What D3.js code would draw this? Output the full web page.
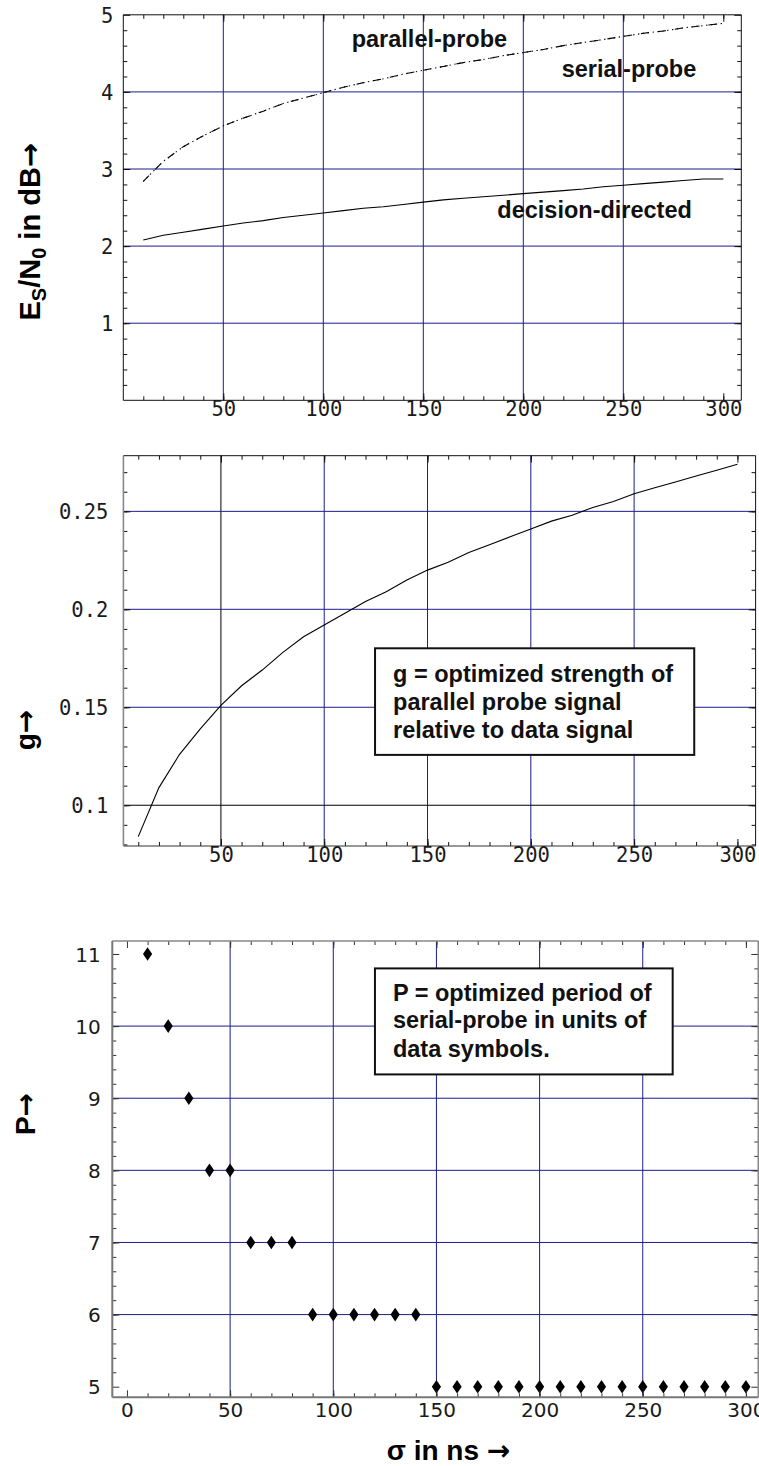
<!DOCTYPE html>
<html>
<head>
<meta charset="utf-8">
<script src="https://cdn.jsdelivr.net/npm/d3@7"></script>
<style>
  html, body { margin: 0; padding: 0; background: #fff; }
  svg { display: block; }
</style>
</head>
<body>
<svg id="fig" width="759" height="1466"></svg>
<script>
// ---- data -------------------------------------------------------------
// delay spread sigma in ns
const sigma = [10, 20, 30, 40, 50, 60, 70, 80, 90, 100,
               110, 120, 130, 140, 150, 160, 170, 180, 190, 200,
               210, 220, 230, 240, 250, 260, 270, 280, 290, 300];

// required Es/N0 in dB
const parallelProbe = [2.84, 3.10, 3.29, 3.43, 3.56, 3.66, 3.75, 3.85, 3.92, 3.99,
                       4.06, 4.12, 4.17, 4.23, 4.28, 4.33, 4.38, 4.42, 4.47, 4.51,
                       4.55, 4.60, 4.64, 4.68, 4.72, 4.76, 4.79, 4.83, 4.86, 4.89];
const serialProbe   = [2.84, 3.10, 3.29, 3.43, 3.56, 3.66, 3.75, 3.85, 3.92, 3.99,
                       4.06, 4.12, 4.17, 4.23, 4.28, 4.33, 4.38, 4.42, 4.47, 4.51,
                       4.55, 4.60, 4.64, 4.68, 4.72, 4.76, 4.79, 4.83, 4.86, 4.89];
const decisionDirected = [2.08, 2.14, 2.18, 2.22, 2.26, 2.30, 2.33, 2.37, 2.40, 2.43,
                          2.46, 2.49, 2.51, 2.54, 2.57, 2.60, 2.62, 2.64, 2.66, 2.68,
                          2.70, 2.72, 2.74, 2.77, 2.79, 2.81, 2.83, 2.85, 2.87, 2.87];

// optimized parallel probe strength g
const gStrength = [0.084, 0.109, 0.126, 0.139, 0.151, 0.161, 0.169, 0.178, 0.186, 0.192,
                   0.198, 0.204, 0.209, 0.215, 0.220, 0.224, 0.229, 0.233, 0.237, 0.241,
                   0.245, 0.248, 0.252, 0.255, 0.259, 0.262, 0.265, 0.268, 0.271, 0.274];

// optimized serial probe period P
const period = [11, 10, 9, 8, 8, 7, 7, 7, 6, 6,
                6, 6, 6, 6, 5, 5, 5, 5, 5, 5,
                5, 5, 5, 5, 5, 5, 5, 5, 5, 5];

// tick labels
const topXTicks = [50, 100, 150, 200, 250, 300];
const topYTicks = [1, 2, 3, 4, 5];
const midXTicks = [50, 100, 150, 200, 250, 300];
const midYTicks = [0.1, 0.15, 0.2, 0.25];
const botXTicks = [0, 50, 100, 150, 200, 250, 300];
const botYTicks = [5, 6, 7, 8, 9, 10, 11];

// ---- drawing ----------------------------------------------------------
const svg = d3.select("#fig");
const NAVY = "#1c1c8e";
const MONO = "'DejaVu Sans Mono', monospace";
const SANS = "'DejaVu Sans', sans-serif";
const BOLD = "'Liberation Sans', Arial, sans-serif";
const ARROW = "'DejaVu Sans', sans-serif";

function makePanel(cfg) {
  const x = d3.scaleLinear().domain(cfg.xDomain).range([cfg.left, cfg.right]);
  const y = d3.scaleLinear().domain(cfg.yDomain).range([cfg.bottom, cfg.top]);
  const g = svg.append("g");

  // grid lines
  const grid = g.append("g").attr("fill", "none").attr("stroke-width", 1);
  cfg.xGrid.forEach(v => {
    grid.append("line")
      .attr("x1", x(v)).attr("x2", x(v))
      .attr("y1", cfg.top).attr("y2", cfg.bottom)
      .attr("stroke", (cfg.blackX || []).includes(v) ? "#000" : NAVY);
  });
  cfg.yGrid.forEach(v => {
    grid.append("line")
      .attr("y1", y(v)).attr("y2", y(v))
      .attr("x1", cfg.left).attr("x2", cfg.right)
      .attr("stroke", (cfg.blackY || []).includes(v) ? "#000" : NAVY);
  });

  const layer = g.append("g");

  // inward ticks on all four sides
  const ticks = g.append("g");
  function tickSet(axisFn, scale, values, size, translate) {
    const a = axisFn(scale).tickValues(values).tickSize(-size).tickFormat("");
    const s = ticks.append("g").attr("transform", translate).call(a);
    s.select(".domain").remove();
    s.selectAll("line").attr("stroke", cfg.tickColor).attr("stroke-width", 1);
  }
  tickSet(d3.axisBottom, x, cfg.xMajor, 7, `translate(0,${cfg.bottom})`);
  tickSet(d3.axisBottom, x, cfg.xMinor, 4, `translate(0,${cfg.bottom})`);
  tickSet(d3.axisTop, x, cfg.xMajor, 7, `translate(0,${cfg.top})`);
  tickSet(d3.axisTop, x, cfg.xMinor, 4, `translate(0,${cfg.top})`);
  tickSet(d3.axisLeft, y, cfg.yMajor, 7, `translate(${cfg.left},0)`);
  tickSet(d3.axisLeft, y, cfg.yMinor, 4, `translate(${cfg.left},0)`);
  tickSet(d3.axisRight, y, cfg.yMajor, 7, `translate(${cfg.right},0)`);
  tickSet(d3.axisRight, y, cfg.yMinor, 4, `translate(${cfg.right},0)`);

  // frame
  const frame = g.append("g").attr("fill", "none");
  frame.append("line").attr("x1", cfg.left).attr("x2", cfg.right).attr("y1", cfg.top).attr("y2", cfg.top)
    .attr("stroke", cfg.frame.top[0]).attr("stroke-width", cfg.frame.top[1]);
  frame.append("line").attr("x1", cfg.left).attr("x2", cfg.right).attr("y1", cfg.bottom).attr("y2", cfg.bottom)
    .attr("stroke", cfg.frame.bottom[0]).attr("stroke-width", cfg.frame.bottom[1]);
  frame.append("line").attr("x1", cfg.left).attr("x2", cfg.left).attr("y1", cfg.top).attr("y2", cfg.bottom)
    .attr("stroke", cfg.frame.left[0]).attr("stroke-width", cfg.frame.left[1]);
  frame.append("line").attr("x1", cfg.right).attr("x2", cfg.right).attr("y1", cfg.top).attr("y2", cfg.bottom)
    .attr("stroke", cfg.frame.right[0]).attr("stroke-width", cfg.frame.right[1]);

  // tick labels
  const xl = g.append("g").attr("transform", `translate(0,${cfg.bottom})`)
    .call(d3.axisBottom(x).tickValues(cfg.xLabels).tickSize(0).tickFormat(d3.format("")));
  xl.select(".domain").remove();
  xl.selectAll("text").attr("y", cfg.xLabelOffset).attr("dy", null)
    .attr("font-family", cfg.labelFont).attr("font-size", cfg.labelSize).attr("fill", "#1a1a1a");

  const yl = g.append("g").attr("transform", `translate(${cfg.left},0)`)
    .call(d3.axisLeft(y).tickValues(cfg.yLabels).tickSize(0).tickFormat(d3.format("")));
  yl.select(".domain").remove();
  yl.selectAll("text").attr("x", -cfg.yLabelOffset).attr("dy", "0.36em")
    .attr("font-family", cfg.labelFont).attr("font-size", cfg.labelSize).attr("fill", "#1a1a1a");

  return { x, y, layer, g };
}

function textBox(parent, x0, y0, x1, y1, lines, offsets) {
  parent.append("rect")
    .attr("x", x0).attr("y", y0).attr("width", x1 - x0).attr("height", y1 - y0)
    .attr("fill", "#fff").attr("stroke", "#111").attr("stroke-width", 2);
  lines.forEach((t, i) => {
    parent.append("text")
      .attr("x", x0 + 18).attr("y", y0 + offsets[i])
      .attr("font-family", BOLD).attr("font-weight", "bold").attr("font-size", 23.5)
      .attr("fill", "#111").text(t);
  });
}

// axis title with a long arrow at its end
function axisTitle(transform, parts, size) {
  const t = svg.append("text")
    .attr("transform", transform)
    .attr("text-anchor", "middle")
    .attr("font-family", BOLD).attr("font-weight", "bold").attr("font-size", size).attr("fill", "#000");
  parts(t);
  return t;
}

// ---------- panel 1 : Es/N0 ----------
const p1 = makePanel({
  left: 123.3, right: 741.3, top: 14.8, bottom: 400.3,
  xDomain: [0, 309], yDomain: [0, 5],
  xGrid: [50, 100, 150, 200, 250], yGrid: [1, 2, 3, 4],
  xMajor: [50, 100, 150, 200, 250, 300], xMinor: d3.range(10, 309, 10),
  yMajor: [1, 2, 3, 4, 5], yMinor: d3.range(0.2, 5, 0.2),
  xLabels: topXTicks, yLabels: topYTicks,
  xLabelOffset: 15.8, yLabelOffset: 10, labelFont: MONO, labelSize: 20.5,
  tickColor: "#111",
  frame: { top: ["#111", 1], bottom: ["#111", 1], left: ["#111", 1], right: ["#111", 1] }
});
{
  const line = d3.line().x((d, i) => p1.x(sigma[i]));
  p1.layer.append("path").datum(parallelProbe)
    .attr("d", line.y(d => p1.y(d)))
    .attr("fill", "none").attr("stroke", "#000").attr("stroke-width", 1.1)
    .attr("stroke-dasharray", "8 9");
  p1.layer.append("path").datum(serialProbe)
    .attr("d", line.y(d => p1.y(d)))
    .attr("fill", "none").attr("stroke", "#000").attr("stroke-width", 1.1)
    .attr("stroke-dasharray", "1.3 3.6").attr("stroke-dashoffset", -9.5);
  p1.layer.append("path").datum(decisionDirected)
    .attr("d", line.y(d => p1.y(d)))
    .attr("fill", "none").attr("stroke", "#000").attr("stroke-width", 1.1);

  const ann = [["parallel-probe", 114.2, 4.586], ["serial-probe", 219.2, 4.197], ["decision-directed", 187, 2.36]];
  ann.forEach(([t, u, v]) => {
    p1.g.append("text").attr("x", p1.x(u)).attr("y", p1.y(v))
      .attr("font-family", BOLD).attr("font-weight", "bold").attr("font-size", 23.5)
      .attr("fill", "#111").text(t);
  });
}
axisTitle("translate(40,231.7) rotate(-90)", t => {
  t.append("tspan").text("E");
  t.append("tspan").attr("font-size", 20).attr("dy", 6).text("S");
  t.append("tspan").attr("dy", -6).text("/N");
  t.append("tspan").attr("font-size", 20).attr("dy", 6).text("0");
  t.append("tspan").attr("dy", -6).text(" in dB");
  t.append("tspan").attr("font-family", ARROW).text("\u2192");
}, 29);

// ---------- panel 2 : g ----------
const p2 = makePanel({
  left: 123.4, right: 755.6, top: 455.7, bottom: 846,
  xDomain: [2.8, 308.8], yDomain: [0.0792, 0.2784],
  xGrid: [50, 100, 150, 200, 250], yGrid: [0.1, 0.15, 0.2, 0.25],
  blackX: [50], blackY: [0.1],
  xMajor: [50, 100, 150, 200, 250, 300], xMinor: d3.range(10, 308, 10),
  yMajor: [0.1, 0.15, 0.2, 0.25], yMinor: d3.range(8, 28, 1).map(v => v / 100),
  xLabels: midXTicks, yLabels: midYTicks,
  xLabelOffset: 15.5, yLabelOffset: 15, labelFont: MONO, labelSize: 20.5,
  tickColor: "#111",
  frame: { top: ["#111", 1], bottom: ["#333", 1.2], left: ["#888", 1.6], right: ["#111", 1] }
});
p2.layer.append("path").datum(gStrength)
  .attr("d", d3.line().x((d, i) => p2.x(sigma[i])).y(d => p2.y(d)))
  .attr("fill", "none").attr("stroke", "#000").attr("stroke-width", 1.1);
textBox(p2.g, p2.x(124.6), p2.y(0.1801), p2.x(279.1), p2.y(0.1257),
  ["g = optimized strength of", "parallel probe signal", "relative to data signal"],
  [33.4, 61.7, 89.2]);
axisTitle("translate(35,730) rotate(-90)", t => {
  t.append("tspan").text("g");
  t.append("tspan").attr("font-family", ARROW).text("\u2192");
}, 28);

// ---------- panel 3 : P ----------
const p3 = makePanel({
  left: 112.3, right: 758.3, top: 941, bottom: 1397.3,
  xDomain: [-7.1, 306], yDomain: [4.853, 11.18],
  xGrid: [50, 100, 150, 200, 250], yGrid: [6, 7, 8, 9, 10],
  xMajor: [0, 50, 100, 150, 200, 250, 300], xMinor: d3.range(10, 306, 10),
  yMajor: [5, 6, 7, 8, 9, 10, 11], yMinor: d3.range(5.2, 11.1, 0.2),
  xLabels: botXTicks, yLabels: botYTicks,
  xLabelOffset: 19.5, yLabelOffset: 11.5, labelFont: SANS, labelSize: 20,
  tickColor: "#333",
  frame: { top: ["#888", 1.6], bottom: ["#777", 2], left: ["#777", 2], right: ["#888", 1.6] }
});
{
  const diamond = "M0,-6.8L4.6,0L0,6.8L-4.6,0Z";
  p3.layer.selectAll("path.pt").data(period).join("path")
    .attr("class", "pt")
    .attr("transform", (d, i) => `translate(${p3.x(sigma[i])},${p3.y(d)})`)
    .attr("d", diamond).attr("fill", "#000");
}
textBox(p3.g, p3.x(120.2), p3.y(10.80), p3.x(264.5), p3.y(9.33),
  ["P = optimized period of", "serial-probe in units of", "data symbols."],
  [32.4, 60, 88.4]);
axisTitle("translate(35,1114) rotate(-90)", t => {
  t.append("tspan").text("P");
  t.append("tspan").attr("font-family", ARROW).text("\u2192");
}, 28);
axisTitle("translate(448.5,1460)", t => {
  t.append("tspan").text("\u03c3 in ns ");
  t.append("tspan").attr("font-family", ARROW).text("\u2192");
}, 28);
</script>
</body>
</html>
